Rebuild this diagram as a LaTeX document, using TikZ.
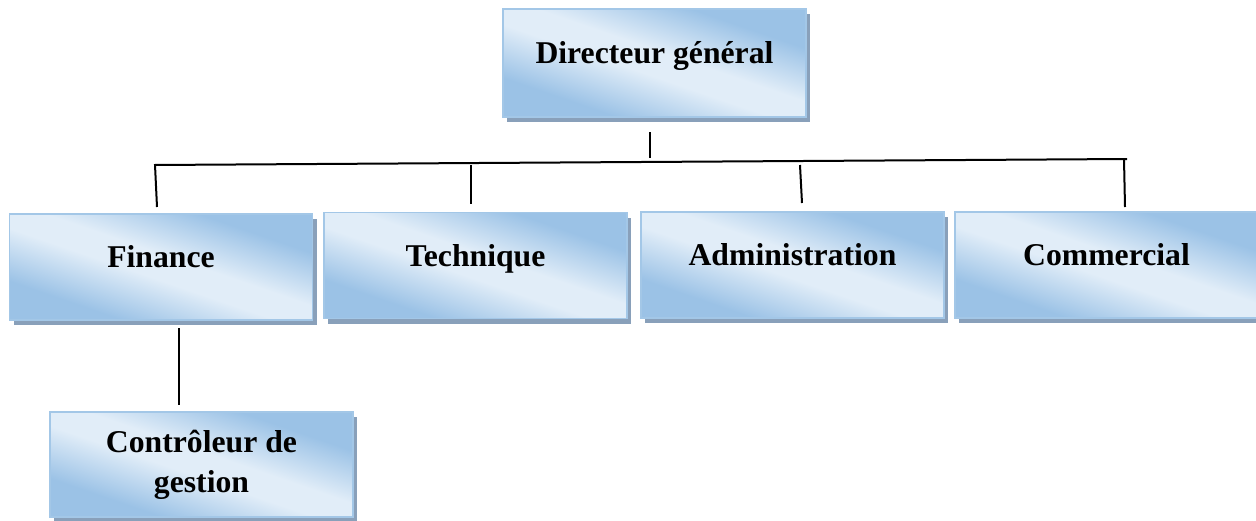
\documentclass[tikz,border=0pt]{standalone}
\usepackage{fontspec}
\setmainfont{Liberation Serif}
\usetikzlibrary{shadows}
\definecolor{boxedge}{RGB}{155,194,230}
\definecolor{boxlight}{RGB}{225,237,248}
\definecolor{boxline}{RGB}{163,199,231}
\definecolor{boxshadow}{RGB}{137,160,186}
% light band across the middle, darker towards two opposite corners
\pgfdeclareverticalshading{unitshade}{100bp}{%
  color(0bp)=(boxedge); color(30bp)=(boxedge);
  color(46bp)=(boxlight); color(54bp)=(boxlight);
  color(70bp)=(boxedge); color(100bp)=(boxedge)}
\begin{document}
\begin{tikzpicture}[x=1pt,y=-1pt,
  unit/.style={draw=boxline, line width=1.2pt,
    shading=unitshade, shading angle=-19,
    minimum width=303pt, minimum height=106pt, inner sep=0pt,
    general shadow={fill=boxshadow, shadow xshift=4pt, shadow yshift=-5pt},
    font=\fontsize{31.7}{40}\selectfont\bfseries, align=center},
  single/.style={text height=21pt, text depth=20pt},
  link/.style={line width=2pt, black}]
\useasboundingbox (0,0) rectangle (1256,520);

% units of the organisation
\node[unit, single, minimum height=108pt] (dg)  at (654.5,63)  {Directeur général};
\node[unit, single] (fin) at (161,267)   {Finance};
\node[unit, single] (tec) at (475.5,265.5) {Technique};
\node[unit, single] (adm) at (792.5,265) {Administration};
\node[unit, single] (com) at (1106.5,265) {Commercial};
\node[unit, minimum height=105pt] (ctl) at (201.5,464.5) {Contrôleur de\\gestion};

% free ends of the connecting lines
\coordinate (dgT)  at (650,132);
\coordinate (dgB)  at (650,158);
\coordinate (busL) at (154,165);
\coordinate (busR) at (1127,159);
\coordinate (finT) at (155,165);
\coordinate (finB) at (157,207);
\coordinate (tecT) at (471,165);
\coordinate (tecB) at (471,204);
\coordinate (admT) at (800,165);
\coordinate (admB) at (802,203);
\coordinate (comT) at (1124,159);
\coordinate (comB) at (1125,207);
\coordinate (ctlT) at (179,328);
\coordinate (ctlB) at (179,405);

\draw[link] (dgT) -- (dgB);
\draw[link] (busL) -- (busR);
\draw[link] (finT) -- (finB);
\draw[link] (tecT) -- (tecB);
\draw[link] (admT) -- (admB);
\draw[link] (comT) -- (comB);
\draw[link] (ctlT) -- (ctlB);
\end{tikzpicture}
\end{document}
